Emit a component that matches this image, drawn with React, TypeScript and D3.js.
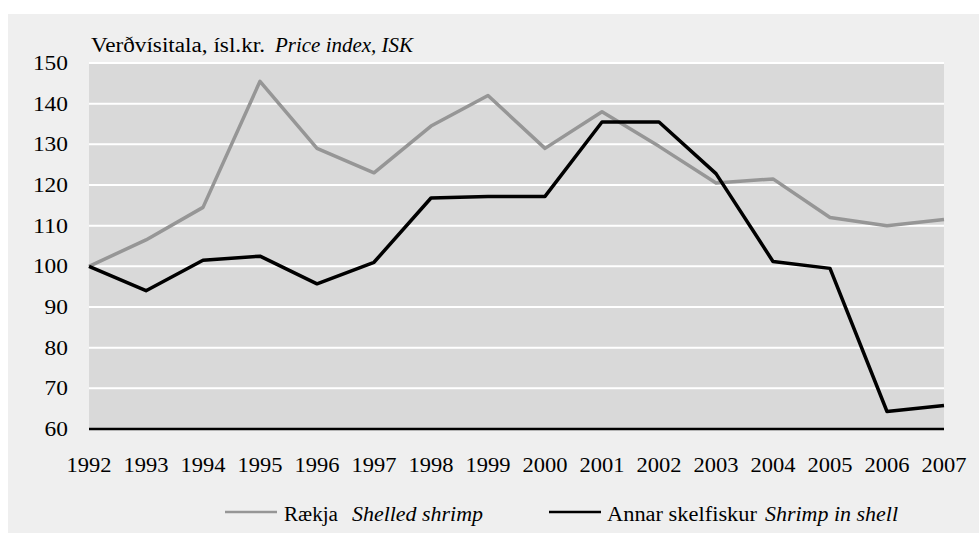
import React from "react";
import * as d3 from "d3";

// price index, 1992 = 100
const years = [1992, 1993, 1994, 1995, 1996, 1997, 1998, 1999, 2000, 2001, 2002, 2003, 2004, 2005, 2006, 2007];
const shelledShrimp = [100, 106.5, 114.5, 145.5, 129, 123, 134.5, 142, 129, 138, 129.5, 120.5, 121.5, 112, 110, 111.5];
const shrimpInShell = [100, 94, 101.5, 102.5, 95.7, 101, 116.8, 117.2, 117.2, 135.5, 135.5, 122.8, 101.2, 99.5, 64.3, 65.8];
const yTicks = [60, 70, 80, 90, 100, 110, 120, 130, 140, 150];

const W = 979;
const H = 534;
const serif = { fontFamily: '"Liberation Serif"' };
const italic = { fontFamily: '"Liberation Serif"', fontStyle: "italic" };

const left = 89, right = 944, top = 63, bottom = 429;
const x = d3.scaleLinear().domain([years[0], years[years.length - 1]]).range([left, right]);
const y = d3.scaleLinear().domain([60, 150]).range([bottom, top]);
const line = d3.line<number>().x((d, i) => x(years[i])).y((d) => y(d));

const legend = [
  { x: 225, tx: 284, nw: 54, ex: 352, ew: 131, color: "#969696", name: "Rækja", en: "Shelled shrimp" },
  { x: 549, tx: 607, nw: 150, ex: 765, ew: 133, color: "#000", name: "Annar skelfiskur", en: "Shrimp in shell" },
];

const App = () => (
  <svg width={W} height={H} style={{ position: "absolute", left: 0, top: 0 }}>
    {/* outer panel + plot area */}
    <rect x={8} y={14} width={W - 8} height={H - 15} fill="#efefef" />
    <rect x={left} y={top} width={right - left} height={bottom - top} fill="#d9d9d9" />

    {yTicks.filter((t) => t > 60).map((t) => (
      <line key={t} x1={left} x2={right} y1={y(t)} y2={y(t)} stroke="#fff" strokeWidth={2} />
    ))}
    <line x1={left} x2={right} y1={y(60)} y2={y(60)} stroke="#000" strokeWidth={2.5} />

    {yTicks.map((t) => (
      <text key={t} x={68} y={y(t) + 7} textAnchor="end" fontSize={21} style={serif}
        textLength={String(t).length * 11.7} lengthAdjust="spacingAndGlyphs">{t}</text>
    ))}
    {years.map((yr) => (
      <text key={yr} x={x(yr)} y={472} textAnchor="middle" fontSize={21} style={serif}
        textLength={45} lengthAdjust="spacingAndGlyphs">{yr}</text>
    ))}

    <text x={91} y={52} fontSize={20} style={serif} textLength={174} lengthAdjust="spacingAndGlyphs">
      Verðvísitala, ísl.kr.
    </text>
    <text x={275} y={52} fontSize={20} style={italic} textLength={138} lengthAdjust="spacingAndGlyphs">
      Price index, ISK
    </text>

    <path d={line(shelledShrimp) ?? ""} fill="none" stroke="#969696" strokeWidth={3.5} strokeLinejoin="round" />
    <path d={line(shrimpInShell) ?? ""} fill="none" stroke="#000" strokeWidth={3.5} strokeLinejoin="round" />

    {legend.map((l) => (
      <g key={l.name}>
        <line x1={l.x} x2={l.x + 52} y1={512} y2={512} stroke={l.color} strokeWidth={2.5} />
        <text x={l.tx} y={521} fontSize={20} style={serif} textLength={l.nw} lengthAdjust="spacingAndGlyphs">
          {l.name}
        </text>
        <text x={l.ex} y={521} fontSize={20} style={italic} textLength={l.ew} lengthAdjust="spacingAndGlyphs">
          {l.en}
        </text>
      </g>
    ))}
  </svg>
);

export default App;
